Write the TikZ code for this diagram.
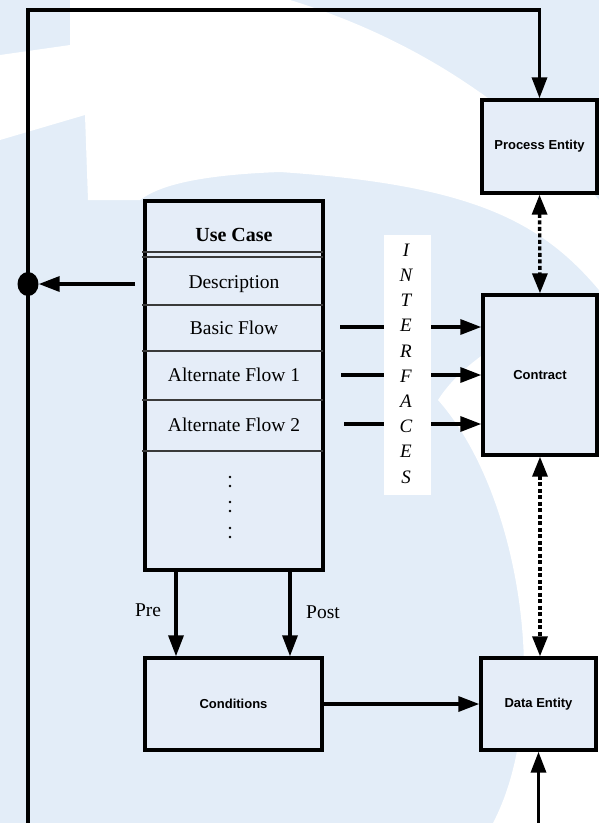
\documentclass[tikz,border=0pt]{standalone}
\usepackage{fontspec}
\setmainfont{Liberation Serif}
\newfontfamily\arialfont{Liberation Sans}
\usetikzlibrary{arrows.meta,shapes.geometric}
\definecolor{bgblue}{HTML}{E3EDF8}
\definecolor{boxblue}{HTML}{E5EDF8}
\definecolor{rowgray}{HTML}{3A3A3A}
\begin{document}
\begin{tikzpicture}[x=1pt,y=-1pt,
  box/.style={draw, line width=3.4pt, fill=boxblue, inner sep=0pt,
    font=\arialfont\bfseries\fontsize{13}{15}\selectfont},
  conn/.style={line width=3.4pt, -{Triangle[length=21pt,width=15pt]}},
  dconn/.style={line width=3.4pt, dash pattern=on 4pt off 2.5pt,
    {Triangle[length=20pt,width=15pt]}-{Triangle[length=20pt,width=15pt]}},
  rowline/.style={line width=1.1pt, draw=rowgray},
  uctext/.style={inner sep=0pt, font=\fontsize{19.5}{21}\selectfont},
  lettr/.style={inner sep=0pt, font=\itshape\fontsize{19}{20}\selectfont},
  lbl/.style={inner sep=0pt, font=\fontsize{19.5}{21}\selectfont}]
% background
\fill[bgblue] (0,0) rectangle (599,823);
\useasboundingbox (0,0) rectangle (599,823);
\fill[white] (0,55) -- (70,45) -- (70,0) -- (290,0)
  .. controls (420,40) and (520,110) .. (599,200) -- (599,290)
  .. controls (540,220) and (470,185) .. (280,172)
  .. controls (200,175) and (160,185) .. (140,200) -- (88,200) -- (85,115) -- (0,140) -- cycle;
\fill[white] (438,400) .. controls (500,470) and (530,600) .. (523,700)
  .. controls (520,760) and (505,800) .. (493,823) -- (599,823) -- (599,300)
  .. controls (540,320) and (470,350) .. (438,400) -- cycle;

% boxes
\node[box, minimum width=115pt, minimum height=93pt] (pe) at (539.5,146.5) {Process Entity};
\node[box, minimum width=114pt, minimum height=160pt] (ct) at (540,375) {Contract};
\node[box, minimum width=115pt, minimum height=92pt] (de) at (538.5,704) {Data Entity};
\node[box, minimum width=177pt, minimum height=92pt] (cond) at (233.5,704) {Conditions};
\node[box, minimum width=178pt, minimum height=369pt] (uc) at (234,385.5) {};

% use case rows
\draw[rowline] (142,252) -- (323,252);
\draw[rowline] (142,257) -- (323,257);
\draw[rowline] (142,305) -- (323,305);
\draw[rowline] (142,351) -- (323,351);
\draw[rowline] (142,400) -- (323,400);
\draw[rowline] (142,451) -- (323,451);
\node[uctext, font=\bfseries\fontsize{20}{21}\selectfont] (uct) at (234,235) {Use Case};
\node[uctext] (ucd) at (234,284) {Description};
\node[uctext] (ucb) at (234,328) {Basic Flow};
\node[uctext] (uca1) at (234,375) {Alternate Flow 1};
\node[uctext] (uca2) at (234,425) {Alternate Flow 2};
\foreach \yy [count=\i] in {477,486,502,511,528,537}
  \fill (230,\yy) circle (1.4pt);

% left loop line
\coordinate (lb) at (28,823);
\coordinate (tl) at (28,10);
\draw[conn, line join=miter] (lb) -- (tl) -| (pe.north);
\node[ellipse, fill=black, inner sep=0pt, minimum width=21pt, minimum height=24pt] (dot) at (28,284) {};
\coordinate (ds) at (135,284);
\draw[conn] (ds) -- (dot.east);

% dotted double arrows
\draw[dconn] (pe.south) -- (ct.north);
\draw[dconn] (ct.south) -- (de.north -| ct.south);

% interface arrows
\coordinate (i1) at (340,327);
\coordinate (i2) at (341,375);
\coordinate (i3) at (344,424);
\draw[conn] (i1) -- (i1 -| ct.west);
\draw[conn] (i2) -- (i2 -| ct.west);
\draw[conn] (i3) -- (i3 -| ct.west);
\node[fill=white, minimum width=47pt, minimum height=260pt, inner sep=0pt] (intf) at (407.5,365) {};
\foreach \ch [count=\i from 0] in {I,N,T,E,R,F,A,C,E,S}
  \node[lettr] (L\i) at (406,250+25.2*\i) {\ch};

% pre / post
\coordinate (pr) at (176,570);
\coordinate (po) at (290,570);
\draw[conn] (pr) -- (pr |- cond.north);
\draw[conn] (po) -- (po |- cond.north);
\node[lbl] (prel) at (148,610) {Pre};
\node[lbl] (postl) at (323,612) {Post};

% conditions to data entity, bottom arrow
\draw[conn] (cond.east) -- (de.west);
\coordinate (br) at (538.5,823);
\draw[conn] (br) -- (de.south);
\end{tikzpicture}
\end{document}
